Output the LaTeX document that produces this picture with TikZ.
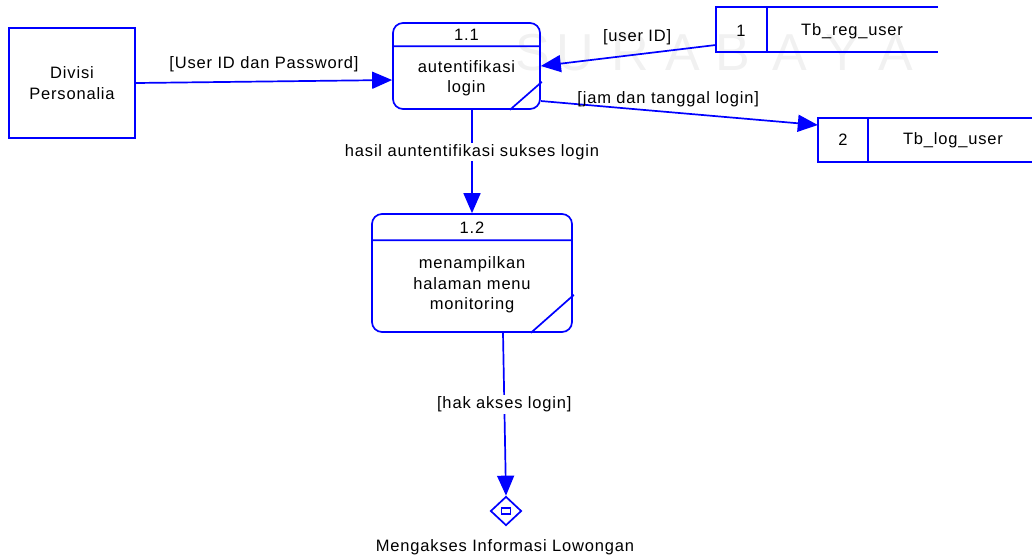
\documentclass[tikz,border=0pt]{standalone}
\usepackage{fontspec}
\setmainfont{Liberation Sans}[LetterSpace=5]
\usetikzlibrary{positioning, arrows.meta, shapes.geometric}
\tikzset{
    flow/.style={draw=blue, line width=1.7pt, -{Triangle[length=20pt,width=17pt]}}, % data flow
    outline/.style={draw=blue, line width=1.7pt},
    lbl/.style={fill=white, inner sep=1.5pt}, % label sitting on a flow
}
\begin{document}
\begin{tikzpicture}[
                        x=1pt, y=-1pt,
                        font=\fontsize{16.5}{20.5}\selectfont,
                        entity/.style={outline, minimum width=126pt, minimum height=110pt, align=center},
                        process/.style={outline, rounded corners=10pt},
                        store/.style={minimum height=44pt, inner sep=0pt},
                    ]
                    \useasboundingbox (0,0) rectangle (1032,558);

                    % watermark
                    \foreach \ch/\px in {S/533,U/575,R/630,A/683,B/733,A/790,Y/843,A/896}
                        \node[text=gray!11, font=\fontsize{52}{52}\selectfont] (wm\px) at (\px,53) {\ch};

                    \node[entity] (div) at (72,83) {Divisi\\Personalia};

                    \node[process, minimum width=147pt, minimum height=86pt] (p11) at (466.5,66) {};
                    \node (p11num) at (466.5,35) {1.1};
                    \node[align=center] (p11txt) at (466.5,78) {autentifikasi\\login};

                    \node[process, minimum width=200pt, minimum height=118pt] (p12) at (472,273) {};
                    \node (p12num) at (472,228) {1.2};
                    \node[align=center] (p12txt) at (472,285) {menampilkan\\halaman menu\\monitoring};

                    \node[store, minimum width=222pt] (s1) at (827,29.5) {};
                    \node (s1num) at (741,31) {1};
                    \node (s1txt) at (852,31) {Tb\_reg\_user};

                    \node[store, minimum width=214pt] (s2) at (925,140) {};
                    \node (s2num) at (843,140) {2};
                    \node (s2txt) at (953,140) {Tb\_log\_user};

                    \node[diamond, outline, minimum width=31pt, minimum height=29pt, inner sep=0pt] (ext) at (506,511) {};
                    \node[draw=blue, line width=1.3pt, minimum width=9pt, minimum height=6pt, inner sep=0pt] (extbox) at (ext.center) {};
                    \node (exttxt) at (505,547) {Mengakses Informasi Lowongan};

                    % process header lines and corner marks
                    \draw[outline]
                    ([yshift=-24pt]p11.north west) -- ([yshift=-24pt]p11.north east)
                    ([xshift=-31pt]p11.south east) -- ([xshift=1pt, yshift=28pt]p11.south east)
                    ([yshift=-27pt]p12.north west) -- ([yshift=-27pt]p12.north east)
                    ([xshift=-42pt]p12.south east) -- ([xshift=1pt, yshift=38pt]p12.south east);

                    % data stores (open on the right)
                    \draw[outline]
                    (s1.north east) -- (s1.north west) -- (s1.south west) -- (s1.south east)
                    ([xshift=51pt]s1.north west) -- ([xshift=51pt]s1.south west)
                    (s2.north east) -- (s2.north west) -- (s2.south west) -- (s2.south east)
                    ([xshift=50pt]s2.north west) -- ([xshift=50pt]s2.south west);

                    \draw[flow] (div.east) -- ([yshift=-14pt]p11.west) node[midway, above=5pt] {[User ID dan Password]};
                    \draw[flow] ([yshift=-15.5pt]s1.west) -- (p11.east) node[pos=0.45, above=5pt] {[user ID]};
                    \draw[flow] ([yshift=-35pt]p11.east) -- ([yshift=15pt]s2.west) node[pos=0.46, above=1pt] {[jam dan tanggal login]};
                    \draw[flow] (p11.south -| p12.north) -- (p12.north) node[pos=0.41, lbl] {hasil auntentifikasi sukses login};
                    \draw[flow] ([xshift=31pt]p12.south) -- (ext.north) node[pos=0.44, lbl] {[hak akses login]};
                \end{tikzpicture}
\end{document}
